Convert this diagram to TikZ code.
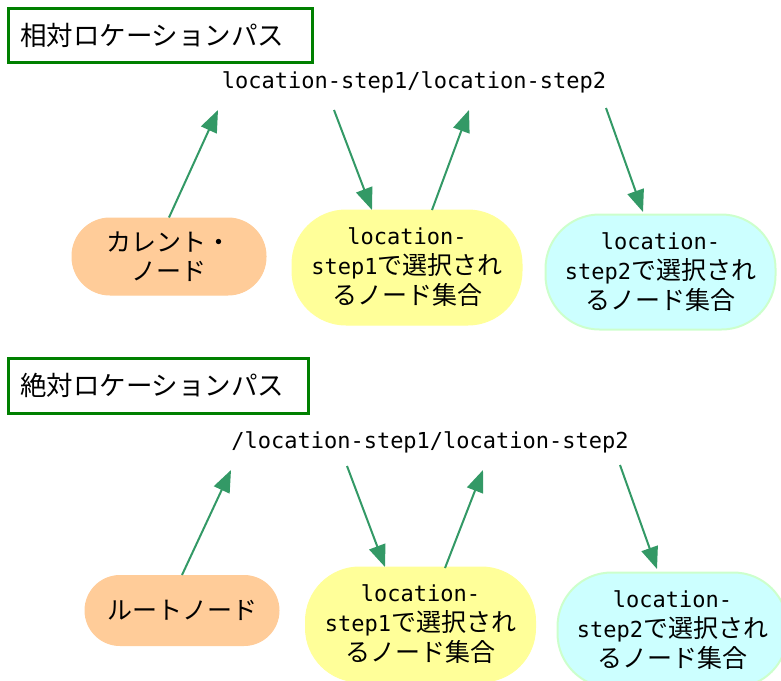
\documentclass[tikz,border=0pt]{standalone}
\usepackage{fontspec}
\setmainfont{Noto Sans CJK JP}
\newfontfamily\monof{DejaVu Sans Mono}
\usetikzlibrary{arrows.meta}
\definecolor{titlegreen}{HTML}{008000}
\definecolor{arrowgreen}{HTML}{339966}
\definecolor{orangefill}{HTML}{FFCC99}
\definecolor{yellowfill}{HTML}{FFFF99}
\definecolor{cyanfill}{HTML}{CCFFFF}
\definecolor{cyanedge}{HTML}{CCFFCC}
\newcommand{\mt}[1]{{\monof\fontsize{22}{30}\selectfont #1}}
\tikzset{
  titlebox/.style={draw=titlegreen, line width=3pt, fill=white, minimum height=54pt,
    inner xsep=12pt, text width=280pt, align=left, font=\fontsize{26.5}{30}\selectfont},
  pathtext/.style={font=\monof\fontsize{22}{26}\selectfont, inner sep=0pt},
  startnode/.style={fill=orangefill, draw=orangefill, line width=1pt, rounded corners=38pt,
    minimum width=194pt, minimum height=77pt, align=center, inner sep=0pt,
    font=\fontsize{25}{29}\selectfont},
  setone/.style={fill=yellowfill, draw=yellowfill, line width=1pt, rounded corners=54pt,
    minimum width=230pt, minimum height=115pt, align=center, inner sep=0pt,
    font=\fontsize{25}{30}\selectfont},
  settwo/.style={fill=cyanfill, draw=cyanedge, line width=2pt, rounded corners=54pt,
    minimum width=230pt, minimum height=115pt, align=center, inner sep=0pt,
    font=\fontsize{25}{30}\selectfont},
  link/.style={draw=arrowgreen, line width=2pt,
    -{Triangle[length=22pt,width=17pt,fill=arrowgreen]}}
}
\begin{document}
\begin{tikzpicture}[x=1pt,y=-1pt]
\useasboundingbox (0,0) rectangle (781,680);
% ---------- relative ----------
\node[titlebox, minimum width=304pt] (title1) at (160,35) {相対ロケーションパス};
\node[pathtext] (path1) at (414,82) {location-step1/location-step2};
\node[startnode] (cur) at (169,256.5) {カレント・\\ノード};
\node[setone] (set1a) at (407,267.5) {\mt{location-}\\\mt{step1}で選択され\\るノード集合};
\node[settwo] (set2a) at (660.5,272) {\mt{location-}\\\mt{step2}で選択され\\るノード集合};
\coordinate (a1t) at (218,110);
\coordinate (a2s) at (334,110);
\coordinate (a2t) at (372,210);
\coordinate (a3s) at (432,210);
\coordinate (a3t) at (469,110);
\coordinate (a4s) at (606,108);
\coordinate (a4t) at (643,212);
\draw[link] (cur.north) -- (a1t);
\draw[link] (a2s) -- (a2t);
\draw[link] (a3s) -- (a3t);
\draw[link] (a4s) -- (a4t);
% ---------- absolute ----------
\node[titlebox, minimum width=300pt, minimum height=55pt, text width=276pt] (title2) at (158,385.5) {絶対ロケーションパス};
\node[pathtext] (path2) at (430,442) {/location-step1/location-step2};
\node[startnode, minimum height=70pt, rounded corners=35pt] (root) at (182,610.5) {ルートノード};
\node[setone] (set1b) at (420.5,624.5) {\mt{location-}\\\mt{step1}で選択され\\るノード集合};
\node[settwo] (set2b) at (672.5,630) {\mt{location-}\\\mt{step2}で選択され\\るノード集合};
\coordinate (b1t) at (231,470);
\coordinate (b2s) at (347,466);
\coordinate (b2t) at (385,567);
\coordinate (b3s) at (445,568);
\coordinate (b3t) at (483,470);
\coordinate (b4s) at (620,465);
\coordinate (b4t) at (657,569);
\draw[link] (root.north) -- (b1t);
\draw[link] (b2s) -- (b2t);
\draw[link] (b3s) -- (b3t);
\draw[link] (b4s) -- (b4t);
\end{tikzpicture}
\end{document}
